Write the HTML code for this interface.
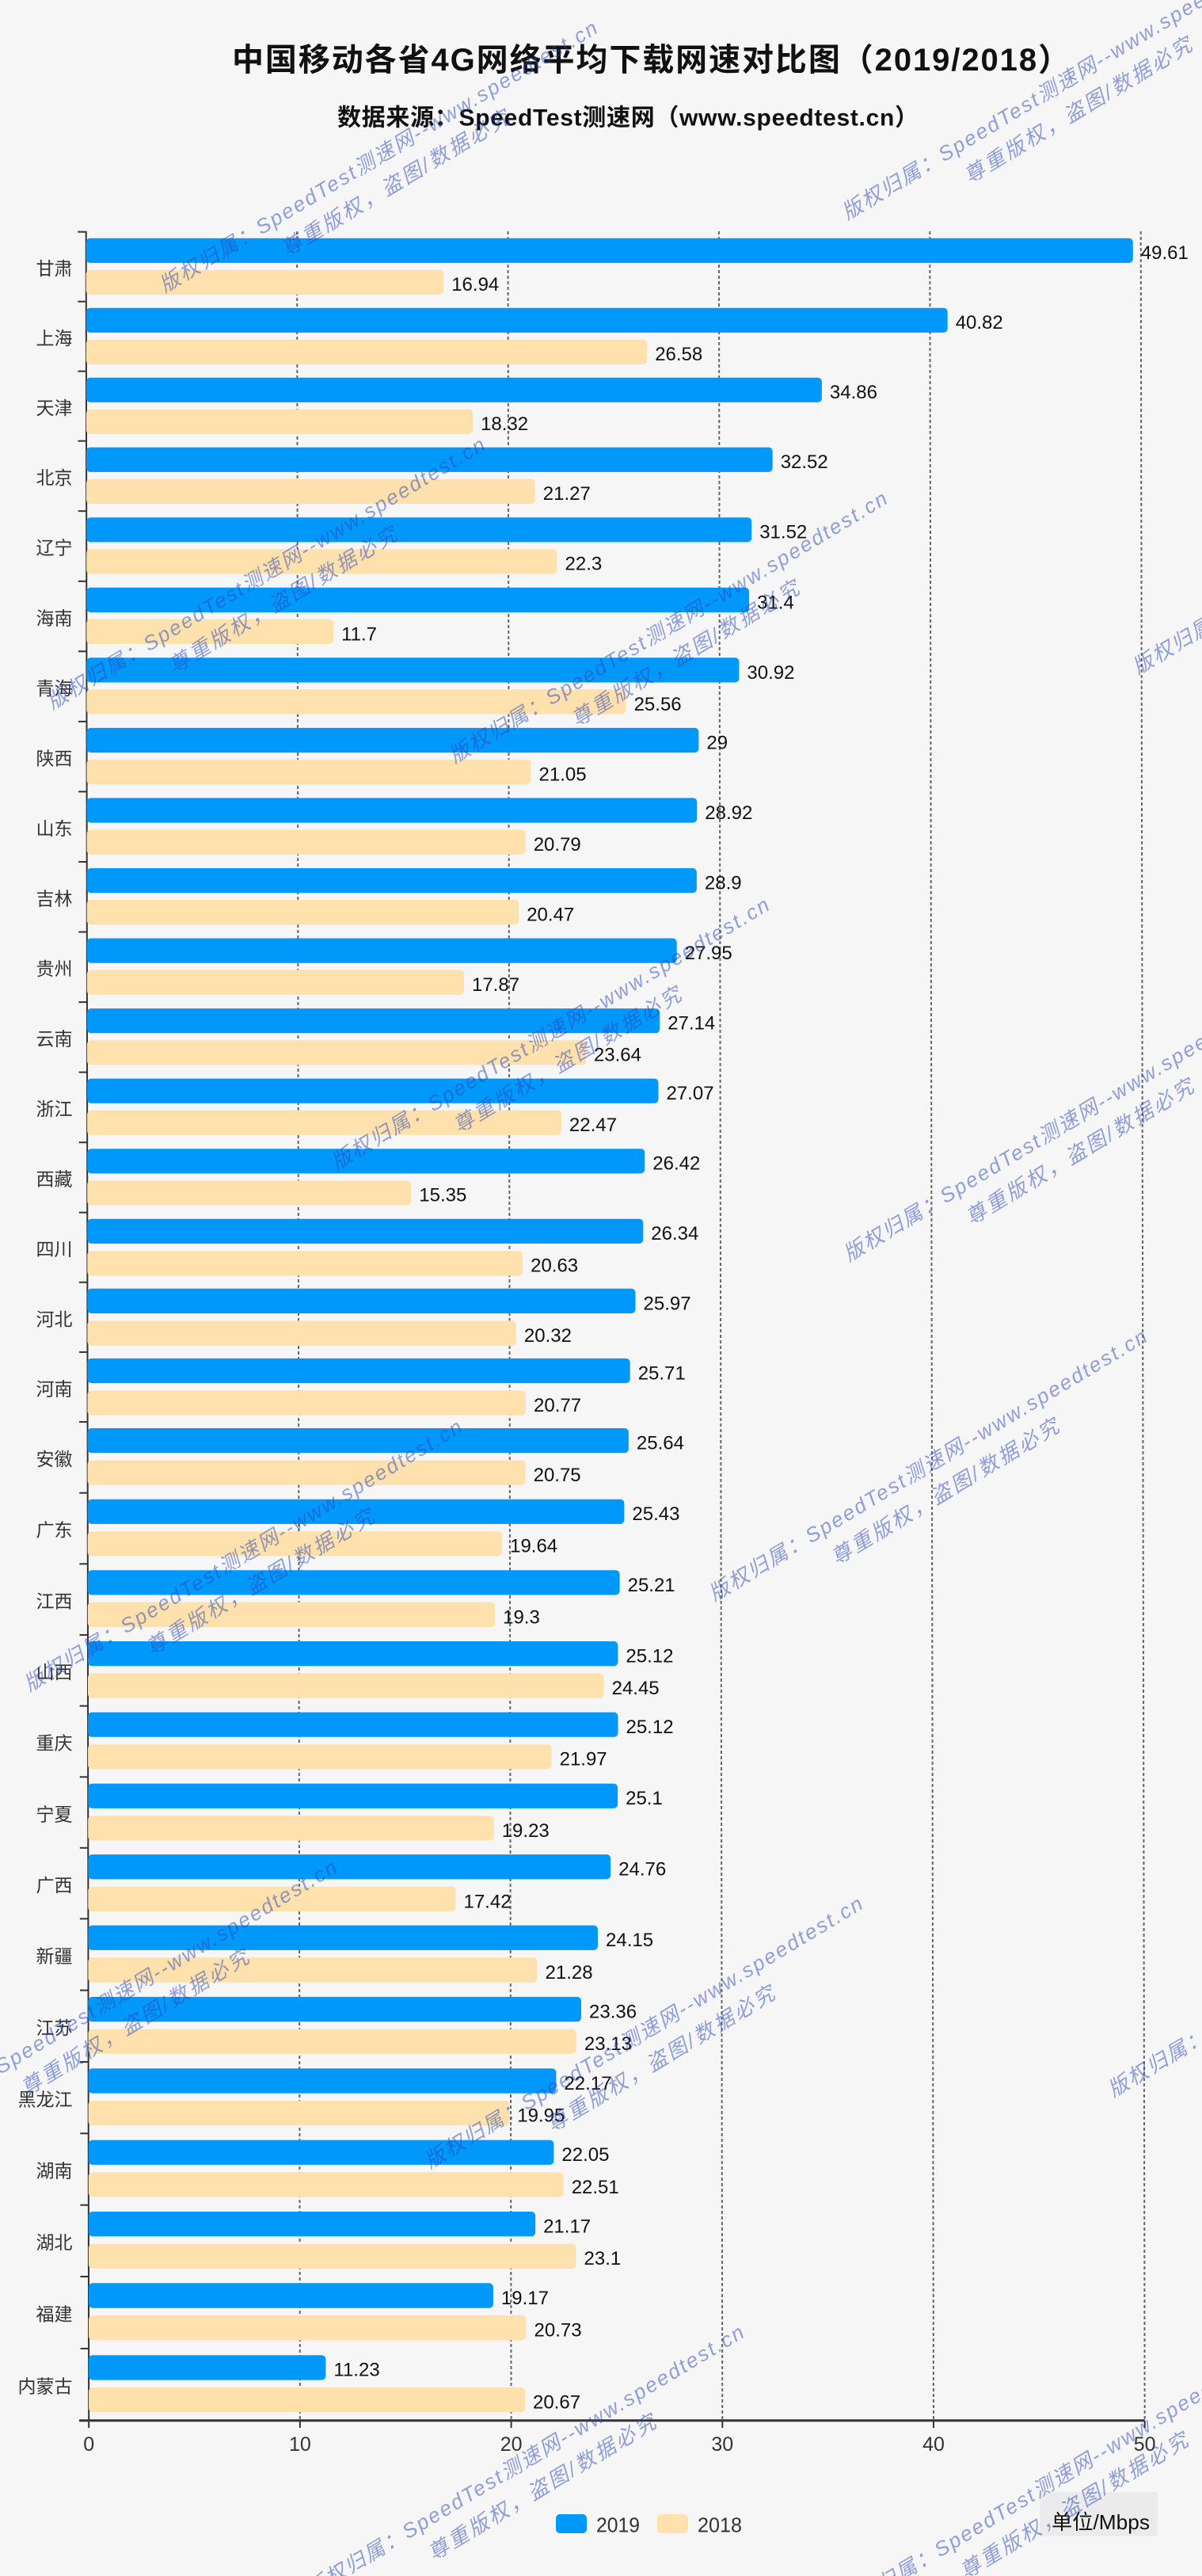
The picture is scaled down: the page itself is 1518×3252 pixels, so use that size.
<!DOCTYPE html>
<html><head><meta charset="utf-8">
<style>
html,body{margin:0;padding:0;background:#f6f6f6;}
svg{display:block;}
.b{fill:#0098fb}
.o{fill:#ffe1ad}
.v{font-family:"Liberation Sans",sans-serif;font-size:24px;fill:#111}
.c{font-family:"Liberation Sans","Noto Sans CJK SC",sans-serif;font-size:23px;fill:#333;text-anchor:end}
.t{font-family:"Liberation Sans",sans-serif;font-size:25px;fill:#333;text-anchor:middle}
.w text{font-family:"Liberation Sans","Noto Sans CJK SC",sans-serif;font-size:26px;font-style:italic;fill:rgb(40,70,185);fill-opacity:.5}
</style></head>
<body>
<svg width="1518" height="3252" viewBox="0 0 1518 3252" xmlns="http://www.w3.org/2000/svg">
<rect x="0" y="0" width="1518" height="3252" fill="#f6f6f6"/>

<!-- title -->
<text x="293" y="89" font-family="'Liberation Sans','Noto Sans CJK SC',sans-serif" font-size="40" font-weight="bold" fill="#111" textLength="1058" lengthAdjust="spacing">中国移动各省4G网络平均下载网速对比图（2019/2018）</text>
<text x="426" y="158.5" font-family="'Liberation Sans','Noto Sans CJK SC',sans-serif" font-size="30" font-weight="bold" fill="#111" textLength="734" lengthAdjust="spacing">数据来源：SpeedTest测速网（www.speedtest.cn）</text>

<!-- gridlines -->
<g stroke="#666" stroke-width="2" stroke-dasharray="4 3" fill="none">
<line x1="375.1" y1="292" x2="378.9" y2="3055"/>
<line x1="641.5" y1="292" x2="645.6" y2="3055"/>
<line x1="907.9" y1="292" x2="912.3" y2="3055"/>
<line x1="1174.3" y1="292" x2="1179.0" y2="3055"/>
<line x1="1440.7" y1="292" x2="1445.7" y2="3055"/>
</g>

<!-- y axis -->
<line x1="108.7" y1="292" x2="112.2" y2="3056" stroke="#333" stroke-width="2"/>
<g stroke="#333" stroke-width="2">
<line x1="98.2" y1="292.7" x2="108.7" y2="292.7"/>
<line x1="98.3" y1="380.7" x2="108.8" y2="380.7"/>
<line x1="98.4" y1="468.7" x2="108.9" y2="468.7"/>
<line x1="98.5" y1="556.7" x2="109.0" y2="556.7"/>
<line x1="98.7" y1="645.2" x2="109.2" y2="645.2"/>
<line x1="98.8" y1="733.8" x2="109.3" y2="733.8"/>
<line x1="98.9" y1="822.3" x2="109.4" y2="822.3"/>
<line x1="99.0" y1="910.9" x2="109.5" y2="910.9"/>
<line x1="99.1" y1="999.4" x2="109.6" y2="999.4"/>
<line x1="99.2" y1="1088.0" x2="109.7" y2="1088.0"/>
<line x1="99.3" y1="1176.5" x2="109.8" y2="1176.5"/>
<line x1="99.4" y1="1265.1" x2="109.9" y2="1265.1"/>
<line x1="99.6" y1="1353.6" x2="110.1" y2="1353.6"/>
<line x1="99.7" y1="1442.2" x2="110.2" y2="1442.2"/>
<line x1="99.8" y1="1530.7" x2="110.3" y2="1530.7"/>
<line x1="99.9" y1="1618.8" x2="110.4" y2="1618.8"/>
<line x1="100.0" y1="1706.9" x2="110.5" y2="1706.9"/>
<line x1="100.1" y1="1795.0" x2="110.6" y2="1795.0"/>
<line x1="100.2" y1="1884.7" x2="110.7" y2="1884.7"/>
<line x1="100.3" y1="1974.3" x2="110.8" y2="1974.3"/>
<line x1="100.5" y1="2064.0" x2="111.0" y2="2064.0"/>
<line x1="100.6" y1="2153.6" x2="111.1" y2="2153.6"/>
<line x1="100.7" y1="2243.3" x2="111.2" y2="2243.3"/>
<line x1="100.8" y1="2332.8" x2="111.3" y2="2332.8"/>
<line x1="100.9" y1="2422.3" x2="111.4" y2="2422.3"/>
<line x1="101.0" y1="2512.6" x2="111.5" y2="2512.6"/>
<line x1="101.1" y1="2603.0" x2="111.6" y2="2603.0"/>
<line x1="101.3" y1="2693.3" x2="111.8" y2="2693.3"/>
<line x1="101.4" y1="2783.7" x2="111.9" y2="2783.7"/>
<line x1="101.5" y1="2874.0" x2="112.0" y2="2874.0"/>
<line x1="101.6" y1="2964.9" x2="112.1" y2="2964.9"/>
</g>

<!-- rows -->
<g transform="translate(108.7,292.7)"><rect class="b" y="8" width="1322.1" height="31.2" rx="5"/><rect class="o" y="48" width="451.5" height="31.3" rx="5"/><text class="v" x="1332.1" y="34.5">49.61</text><text class="v" x="461.5" y="74.5">16.94</text><text class="c" x="-17.2" y="54.5">甘肃</text></g>
<g transform="translate(108.8,380.7)"><rect class="b" y="8" width="1087.9" height="31.2" rx="5"/><rect class="o" y="48" width="708.4" height="31.3" rx="5"/><text class="v" x="1097.9" y="34.5">40.82</text><text class="v" x="718.4" y="74.5">26.58</text><text class="c" x="-17.3" y="54.5">上海</text></g>
<g transform="translate(108.9,468.7)"><rect class="b" y="8" width="929.0" height="31.2" rx="5"/><rect class="o" y="48" width="488.2" height="31.3" rx="5"/><text class="v" x="939.0" y="34.5">34.86</text><text class="v" x="498.2" y="74.5">18.32</text><text class="c" x="-17.4" y="54.5">天津</text></g>
<g transform="translate(109.0,556.7)"><rect class="b" y="8" width="866.7" height="31.2" rx="5"/><rect class="o" y="48" width="566.8" height="31.3" rx="5"/><text class="v" x="876.7" y="34.5">32.52</text><text class="v" x="576.8" y="74.5">21.27</text><text class="c" x="-17.5" y="54.5">北京</text></g>
<g transform="translate(109.2,645.2)"><rect class="b" y="8" width="840.0" height="31.2" rx="5"/><rect class="o" y="48" width="594.3" height="31.3" rx="5"/><text class="v" x="850.0" y="34.5">31.52</text><text class="v" x="604.3" y="74.5">22.3</text><text class="c" x="-17.7" y="54.5">辽宁</text></g>
<g transform="translate(109.3,733.8)"><rect class="b" y="8" width="836.8" height="31.2" rx="5"/><rect class="o" y="48" width="311.8" height="31.3" rx="5"/><text class="v" x="846.8" y="34.5">31.4</text><text class="v" x="321.8" y="74.5">11.7</text><text class="c" x="-17.8" y="54.5">海南</text></g>
<g transform="translate(109.4,822.3)"><rect class="b" y="8" width="824.0" height="31.2" rx="5"/><rect class="o" y="48" width="681.2" height="31.3" rx="5"/><text class="v" x="834.0" y="34.5">30.92</text><text class="v" x="691.2" y="74.5">25.56</text><text class="c" x="-17.9" y="54.5">青海</text></g>
<g transform="translate(109.5,910.9)"><rect class="b" y="8" width="772.9" height="31.2" rx="5"/><rect class="o" y="48" width="561.0" height="31.3" rx="5"/><text class="v" x="782.9" y="34.5">29</text><text class="v" x="571.0" y="74.5">21.05</text><text class="c" x="-18.0" y="54.5">陕西</text></g>
<g transform="translate(109.6,999.4)"><rect class="b" y="8" width="770.7" height="31.2" rx="5"/><rect class="o" y="48" width="554.1" height="31.3" rx="5"/><text class="v" x="780.7" y="34.5">28.92</text><text class="v" x="564.1" y="74.5">20.79</text><text class="c" x="-18.1" y="54.5">山东</text></g>
<g transform="translate(109.7,1088.0)"><rect class="b" y="8" width="770.2" height="31.2" rx="5"/><rect class="o" y="48" width="545.5" height="31.3" rx="5"/><text class="v" x="780.2" y="34.5">28.9</text><text class="v" x="555.5" y="74.5">20.47</text><text class="c" x="-18.2" y="54.5">吉林</text></g>
<g transform="translate(109.8,1176.5)"><rect class="b" y="8" width="744.9" height="31.2" rx="5"/><rect class="o" y="48" width="476.2" height="31.3" rx="5"/><text class="v" x="754.9" y="34.5">27.95</text><text class="v" x="486.2" y="74.5">17.87</text><text class="c" x="-18.3" y="54.5">贵州</text></g>
<g transform="translate(109.9,1265.1)"><rect class="b" y="8" width="723.3" height="31.2" rx="5"/><rect class="o" y="48" width="630.0" height="31.3" rx="5"/><text class="v" x="733.3" y="34.5">27.14</text><text class="v" x="640.0" y="74.5">23.64</text><text class="c" x="-18.4" y="54.5">云南</text></g>
<g transform="translate(110.1,1353.6)"><rect class="b" y="8" width="721.4" height="31.2" rx="5"/><rect class="o" y="48" width="598.8" height="31.3" rx="5"/><text class="v" x="731.4" y="34.5">27.07</text><text class="v" x="608.8" y="74.5">22.47</text><text class="c" x="-18.6" y="54.5">浙江</text></g>
<g transform="translate(110.2,1442.2)"><rect class="b" y="8" width="704.1" height="31.2" rx="5"/><rect class="o" y="48" width="409.1" height="31.3" rx="5"/><text class="v" x="714.1" y="34.5">26.42</text><text class="v" x="419.1" y="74.5">15.35</text><text class="c" x="-18.7" y="54.5">西藏</text></g>
<g transform="translate(110.3,1530.7)"><rect class="b" y="8" width="702.0" height="31.2" rx="5"/><rect class="o" y="48.5" width="549.8" height="31.3" rx="5"/><text class="v" x="712.0" y="34.5">26.34</text><text class="v" x="559.8" y="75">20.63</text><text class="c" x="-18.8" y="54.5">四川</text></g>
<g transform="translate(110.4,1618.8)"><rect class="b" y="8" width="692.1" height="31.2" rx="5"/><rect class="o" y="48.5" width="541.5" height="31.3" rx="5"/><text class="v" x="702.1" y="34.5">25.97</text><text class="v" x="551.5" y="75">20.32</text><text class="c" x="-18.9" y="54.5">河北</text></g>
<g transform="translate(110.5,1706.9)"><rect class="b" y="8" width="685.2" height="31.2" rx="5"/><rect class="o" y="48.5" width="553.5" height="31.3" rx="5"/><text class="v" x="695.2" y="34.5">25.71</text><text class="v" x="563.5" y="75">20.77</text><text class="c" x="-19.0" y="54.5">河南</text></g>
<g transform="translate(110.6,1795.0)"><rect class="b" y="8" width="683.3" height="31.2" rx="5"/><rect class="o" y="48.5" width="553.0" height="31.3" rx="5"/><text class="v" x="693.3" y="34.5">25.64</text><text class="v" x="563.0" y="75">20.75</text><text class="c" x="-19.1" y="55">安徽</text></g>
<g transform="translate(110.7,1884.7)"><rect class="b" y="8" width="677.7" height="31.2" rx="5"/><rect class="o" y="48.5" width="523.4" height="31.3" rx="5"/><text class="v" x="687.7" y="34.5">25.43</text><text class="v" x="533.4" y="75">19.64</text><text class="c" x="-19.2" y="55">广东</text></g>
<g transform="translate(110.8,1974.3)"><rect class="b" y="8" width="671.8" height="31.2" rx="5"/><rect class="o" y="48.5" width="514.3" height="31.3" rx="5"/><text class="v" x="681.8" y="34.5">25.21</text><text class="v" x="524.3" y="75">19.3</text><text class="c" x="-19.3" y="55">江西</text></g>
<g transform="translate(111.0,2064.0)"><rect class="b" y="8" width="669.4" height="31.2" rx="5"/><rect class="o" y="48.5" width="651.6" height="31.3" rx="5"/><text class="v" x="679.4" y="34.5">25.12</text><text class="v" x="661.6" y="75">24.45</text><text class="c" x="-19.5" y="55">山西</text></g>
<g transform="translate(111.1,2153.6)"><rect class="b" y="8" width="669.4" height="31.2" rx="5"/><rect class="o" y="48.5" width="585.5" height="31.3" rx="5"/><text class="v" x="679.4" y="34.5">25.12</text><text class="v" x="595.5" y="75">21.97</text><text class="c" x="-19.6" y="55">重庆</text></g>
<g transform="translate(111.2,2243.3)"><rect class="b" y="8.3" width="668.9" height="31.3" rx="5"/><rect class="o" y="49" width="512.5" height="31.3" rx="5"/><text class="v" x="678.9" y="34.8">25.1</text><text class="v" x="522.5" y="75.5">19.23</text><text class="c" x="-19.7" y="55">宁夏</text></g>
<g transform="translate(111.3,2332.8)"><rect class="b" y="8.3" width="659.9" height="31.3" rx="5"/><rect class="o" y="49" width="464.2" height="31.3" rx="5"/><text class="v" x="669.9" y="34.8">24.76</text><text class="v" x="474.2" y="75.5">17.42</text><text class="c" x="-19.8" y="55">广西</text></g>
<g transform="translate(111.4,2422.3)"><rect class="b" y="8.3" width="643.6" height="31.3" rx="5"/><rect class="o" y="49" width="567.1" height="31.3" rx="5"/><text class="v" x="653.6" y="34.8">24.15</text><text class="v" x="577.1" y="75.5">21.28</text><text class="c" x="-19.9" y="55.3">新疆</text></g>
<g transform="translate(111.5,2512.6)"><rect class="b" y="8.3" width="622.5" height="31.3" rx="5"/><rect class="o" y="49" width="616.4" height="31.3" rx="5"/><text class="v" x="632.5" y="34.8">23.36</text><text class="v" x="626.4" y="75.5">23.13</text><text class="c" x="-20.0" y="55.3">江苏</text></g>
<g transform="translate(111.6,2603.0)"><rect class="b" y="8.3" width="590.8" height="31.3" rx="5"/><rect class="o" y="49" width="531.7" height="31.3" rx="5"/><text class="v" x="600.8" y="34.8">22.17</text><text class="v" x="541.7" y="75.5">19.95</text><text class="c" x="-20.1" y="55.3">黑龙江</text></g>
<g transform="translate(111.8,2693.3)"><rect class="b" y="8.3" width="587.6" height="31.3" rx="5"/><rect class="o" y="49" width="599.9" height="31.3" rx="5"/><text class="v" x="597.6" y="34.8">22.05</text><text class="v" x="609.9" y="75.5">22.51</text><text class="c" x="-20.3" y="55.3">湖南</text></g>
<g transform="translate(111.9,2783.7)"><rect class="b" y="8.3" width="564.2" height="31.3" rx="5"/><rect class="o" y="49" width="615.6" height="31.3" rx="5"/><text class="v" x="574.2" y="34.8">21.17</text><text class="v" x="625.6" y="75.5">23.1</text><text class="c" x="-20.4" y="55.3">湖北</text></g>
<g transform="translate(112.0,2874.0)"><rect class="b" y="8.3" width="510.9" height="31.4" rx="5"/><rect class="o" y="49" width="552.5" height="31.4" rx="5"/><text class="v" x="520.9" y="34.8">19.17</text><text class="v" x="562.5" y="75.5">20.73</text><text class="c" x="-20.5" y="55.5">福建</text></g>
<g transform="translate(112.1,2964.9)"><rect class="b" y="8.3" width="299.3" height="31.4" rx="5"/><rect class="o" y="49" width="550.9" height="31.4" rx="5"/><text class="v" x="309.3" y="34.8">11.23</text><text class="v" x="560.9" y="75.5">20.67</text><text class="c" x="-20.6" y="55.5">内蒙古</text></g>

<!-- x axis -->
<line x1="100" y1="3055.7" x2="1445.7" y2="3055.7" stroke="#333" stroke-width="3"/>
<g stroke="#333" stroke-width="2">
<line x1="112.2" y1="3056" x2="112.2" y2="3065"/>
<line x1="378.9" y1="3056" x2="378.9" y2="3065"/>
<line x1="645.6" y1="3056" x2="645.6" y2="3065"/>
<line x1="912.3" y1="3056" x2="912.3" y2="3065"/>
<line x1="1179.0" y1="3056" x2="1179.0" y2="3065"/>
<line x1="1445.7" y1="3056" x2="1445.7" y2="3065"/>
</g>
<text class="t" x="112.2" y="3094">0</text>
<text class="t" x="378.9" y="3094">10</text>
<text class="t" x="645.6" y="3094">20</text>
<text class="t" x="912.3" y="3094">30</text>
<text class="t" x="1179.0" y="3094">40</text>
<text class="t" x="1445.7" y="3094">50</text>

<!-- legend -->
<rect x="702" y="3174" width="39" height="24" rx="5" fill="#0098fb"/>
<text x="753" y="3196.5" font-family="'Liberation Sans',sans-serif" font-size="26" fill="#333" textLength="55" lengthAdjust="spacingAndGlyphs">2019</text>
<rect x="830" y="3174" width="39" height="24" rx="5" fill="#ffe1ad"/>
<text x="881" y="3196.5" font-family="'Liberation Sans',sans-serif" font-size="26" fill="#333" textLength="56" lengthAdjust="spacingAndGlyphs">2018</text>

<!-- unit box -->
<rect x="1313" y="3146" width="149" height="56" fill="#ebebeb"/>
<text x="1328" y="3193" font-family="'Liberation Sans','Noto Sans CJK SC',sans-serif" font-size="26" fill="#111" textLength="124" lengthAdjust="spacingAndGlyphs">单位/Mbps</text>

<!-- watermarks -->
<g class="w">
<g transform="translate(208,370) rotate(-31)"><text x="0" y="0" textLength="640">版权归属：SpeedTest测速网--www.speedtest.cn</text><text x="156" y="40" textLength="330">尊重版权，盗图/数据必究</text></g>
<g transform="translate(1070,278) rotate(-31)"><text x="0" y="0" textLength="640">版权归属：SpeedTest测速网--www.speedtest.cn</text><text x="156" y="40" textLength="330">尊重版权，盗图/数据必究</text></g>
<g transform="translate(66,896) rotate(-31)"><text x="0" y="0" textLength="640">版权归属：SpeedTest测速网--www.speedtest.cn</text><text x="156" y="40" textLength="330">尊重版权，盗图/数据必究</text></g>
<g transform="translate(574,964) rotate(-31)"><text x="0" y="0" textLength="640">版权归属：SpeedTest测速网--www.speedtest.cn</text><text x="156" y="40" textLength="330">尊重版权，盗图/数据必究</text></g>
<g transform="translate(1437,852) rotate(-31)"><text x="0" y="0" textLength="640">版权归属：SpeedTest测速网--www.speedtest.cn</text><text x="156" y="40" textLength="330">尊重版权，盗图/数据必究</text></g>
<g transform="translate(425,1477) rotate(-31)"><text x="0" y="0" textLength="640">版权归属：SpeedTest测速网--www.speedtest.cn</text><text x="156" y="40" textLength="330">尊重版权，盗图/数据必究</text></g>
<g transform="translate(1072,1593) rotate(-31)"><text x="0" y="0" textLength="640">版权归属：SpeedTest测速网--www.speedtest.cn</text><text x="156" y="40" textLength="330">尊重版权，盗图/数据必究</text></g>
<g transform="translate(902,2022) rotate(-31)"><text x="0" y="0" textLength="640">版权归属：SpeedTest测速网--www.speedtest.cn</text><text x="156" y="40" textLength="330">尊重版权，盗图/数据必究</text></g>
<g transform="translate(37,2136) rotate(-31)"><text x="0" y="0" textLength="640">版权归属：SpeedTest测速网--www.speedtest.cn</text><text x="156" y="40" textLength="330">尊重版权，盗图/数据必究</text></g>
<g transform="translate(-121,2692) rotate(-31)"><text x="0" y="0" textLength="640">版权归属：SpeedTest测速网--www.speedtest.cn</text><text x="156" y="40" textLength="330">尊重版权，盗图/数据必究</text></g>
<g transform="translate(543,2738) rotate(-31)"><text x="0" y="0" textLength="640">版权归属：SpeedTest测速网--www.speedtest.cn</text><text x="156" y="40" textLength="330">尊重版权，盗图/数据必究</text></g>
<g transform="translate(1406,2648) rotate(-31)"><text x="0" y="0" textLength="640">版权归属：SpeedTest测速网--www.speedtest.cn</text><text x="156" y="40" textLength="330">尊重版权，盗图/数据必究</text></g>
<g transform="translate(393,3279) rotate(-31)"><text x="0" y="0" textLength="640">版权归属：SpeedTest测速网--www.speedtest.cn</text><text x="156" y="40" textLength="330">尊重版权，盗图/数据必究</text></g>
<g transform="translate(1065,3302) rotate(-31)"><text x="0" y="0" textLength="640">版权归属：SpeedTest测速网--www.speedtest.cn</text><text x="156" y="40" textLength="330">尊重版权，盗图/数据必究</text></g>
</g>
</svg>
</body></html>
